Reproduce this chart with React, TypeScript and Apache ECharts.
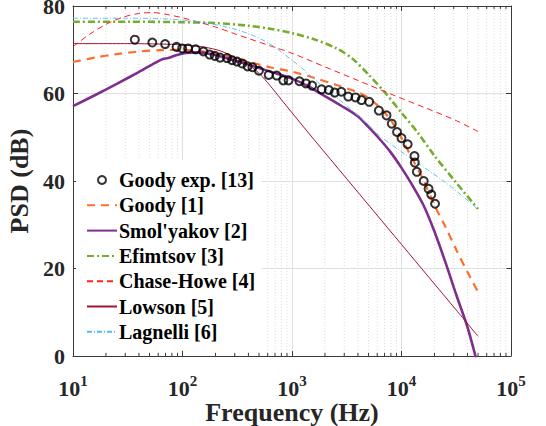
import React, { useEffect, useRef } from 'react';
import * as echarts from 'echarts';

const FONT = '"Liberation Serif", "Times New Roman", serif';

// Goody experiment (circles)
const expFreq = [36.7, 53, 69.4, 88.3, 99.3, 112.5, 132, 155, 177, 197, 220, 255, 284, 315, 351, 393, 435, 499, 613, 725, 833, 930, 1170, 1340, 1528, 1862, 2170, 2455, 2820, 3265, 3800, 4315, 5070, 6210, 7300, 8150, 9100, 10000, 11380, 13140, 13240, 13810, 15960, 17660, 18700, 20240];
const expPsd = [72.3, 71.65, 71.3, 70.65, 70.3, 70.3, 70.1, 69.6, 68.9, 68.6, 68.2, 68.1, 67.6, 67.3, 66.85, 66.2, 66.0, 65.2, 64.25, 64.1, 63.0, 63.0, 62.8, 62.3, 61.8, 60.95, 60.8, 60.2, 60.4, 59.3, 59.1, 58.5, 58.1, 56.1, 55.0, 53.1, 51.2, 49.8, 48.4, 45.7, 44.2, 42.1, 40.0, 38.2, 36.9, 34.8];

// Goody [1]
const goodyFreq = [10, 15.8, 25.1, 39.8, 63.1, 100, 158, 251, 398, 631, 1000, 1585, 2512, 3981, 5012, 6310, 7943, 10000, 12589, 15849, 19953, 25119, 31623, 39811, 50000];
const goodyPsd = [67.2, 68.2, 69.0, 69.6, 69.9, 70.0, 69.6, 68.6, 67.3, 66.0, 65.0, 63.6, 62.0, 60.3, 59.0, 56.8, 54.0, 49.8, 45.0, 40.2, 34.5, 29.6, 24.3, 19.3, 14.6];

// Smol'yakov [2]
const smolFreq = [10, 15.8, 25.1, 39.8, 56.2, 66.1, 74.1, 89.1, 112, 141, 200, 282, 398, 631, 1000, 1413, 1995, 2818, 3981, 5012, 6310, 7943, 10000, 12589, 15849, 19953, 25119, 31623, 39811, 46774, 50000];
const smolPsd = [57.1, 59.6, 62.2, 64.9, 67.0, 67.9, 68.1, 68.8, 69.3, 69.4, 68.8, 67.7, 66.6, 65.0, 63.4, 61.6, 59.4, 57.2, 54.8, 52.3, 49.6, 46.6, 43.0, 39.0, 34.5, 28.5, 21.5, 14.0, 6.8, 0.5, -2.5];

// Efimtsov [3]
const efimFreq = [10, 31.6, 100, 200, 398, 631, 1000, 1585, 2512, 3548, 5012, 7079, 10000, 14125, 19953, 31623, 50000];
const efimPsd = [76.4, 76.4, 76.3, 76.1, 75.5, 74.8, 73.8, 72.4, 70.4, 68.0, 64.3, 60.2, 55.6, 51.0, 45.8, 39.6, 33.6];

// Chase-Howe [4]
const chaseFreq = [10, 14.1, 20, 28.2, 39.8, 53.7, 70.8, 100, 141, 200, 282, 398, 631, 1000, 1995, 3981, 7943, 15849, 31623, 50000];
const chasePsd = [70.7, 73.5, 75.8, 77.4, 78.3, 78.5, 78.1, 77.3, 76.3, 75.2, 73.9, 72.6, 70.9, 69.2, 66.1, 63.0, 59.9, 56.9, 53.8, 51.3];

// Lowson [5]
const lowsonFreq = [10, 31.6, 63.1, 100, 158, 224, 316, 398, 501, 631, 794, 1000, 1585, 3162, 10000, 31623, 50000];
const lowsonPsd = [71.4, 71.4, 71.3, 71.1, 70.6, 69.7, 68.0, 66.6, 64.6, 61.8, 58.7, 55.6, 49.5, 40.5, 25.5, 10.5, 4.5];

// Lagnelli [6]
const lagFreq = [10, 31.6, 63.1, 100, 158, 251, 398, 631, 1000, 1259, 1585, 1995, 2512, 3162, 3981, 5012, 6310, 7943, 10000, 12589, 15849, 25119, 35481, 50000];
const lagPsd = [77.2, 77.2, 77.1, 76.8, 76.2, 75.2, 73.7, 71.3, 67.6, 65.6, 63.4, 61.2, 59.2, 57.2, 55.0, 52.8, 50.3, 48.5, 46.7, 44.9, 43.2, 39.7, 36.7, 33.5];

const expName = 'Goody exp. [13]';
const lineNames = ['Goody [1]', "Smol'yakov [2]", 'Efimtsov [3]', 'Chase-Howe [4]', 'Lowson [5]', 'Lagnelli [6]'];

const decades = [1, 2, 3, 4];
const minorTicks: number[] = [];
decades.forEach((d) => {
  for (let m = 2; m <= 9; m++) minorTicks.push(m * Math.pow(10, d));
});

const pairs = (f: number[], v: number[]) => f.map((x, i) => [x, v[i]]);

const AXIS_COLOR = '#3a3a3a';
const TEXT_COLOR = '#262626';

function buildOption(): any {
  const lineSeries = (name: string, f: number[], v: number[], color: string, width: number, type: any) => ({
    name,
    type: 'line',
    data: pairs(f, v),
    symbol: 'none',
    smooth: 0.3,
    clip: true,
    lineStyle: { color, width, type },
    itemStyle: { color },
    z: 3,
  });
  return {
    animation: false,
    backgroundColor: '#ffffff',
    grid: { left: 73, right: 35, top: 6, bottom: 70, outerBoundsMode: 'none', containLabel: false },
    xAxis: [
      {
        type: 'log',
        logBase: 10,
        min: 10,
        max: 100000,
        name: 'Frequency (Hz)',
        nameLocation: 'middle',
        nameGap: 44,
        nameMoveOverlap: false,
        nameTextStyle: { fontFamily: FONT, fontWeight: 'bold', fontSize: 26, lineHeight: 24, color: TEXT_COLOR },
        axisLine: { show: true, onZero: false, lineStyle: { color: AXIS_COLOR, width: 1 } },
        axisTick: { show: true, inside: true, length: 5, lineStyle: { color: AXIS_COLOR } },
        splitLine: { show: true, lineStyle: { color: '#e0e0e0', width: 1 } },
        axisLabel: {
          margin: 17,
          formatter: (v: number) => '{b|10}{s|' + Math.round(Math.log10(v)) + '}',
          rich: {
            b: { fontFamily: FONT, fontWeight: 'bold', fontSize: 22, lineHeight: 20, color: TEXT_COLOR },
            s: { fontFamily: FONT, fontWeight: 'bold', fontSize: 15, color: TEXT_COLOR, verticalAlign: 'top', padding: [0, 0, 16, 0] },
          },
        },
      },
      {
        type: 'log',
        logBase: 10,
        min: 10,
        max: 100000,
        position: 'top',
        axisLine: { show: true, onZero: false, lineStyle: { color: AXIS_COLOR, width: 1 } },
        axisTick: { show: true, inside: true, length: 5, lineStyle: { color: AXIS_COLOR } },
        axisLabel: { show: false },
        splitLine: { show: false },
      },
    ],
    yAxis: [
      {
        type: 'value',
        min: 0,
        max: 80,
        interval: 20,
        name: 'PSD (dB)',
        nameLocation: 'middle',
        nameGap: 41,
        nameRotate: 90,
        nameMoveOverlap: false,
        nameTextStyle: { fontFamily: FONT, fontWeight: 'bold', fontSize: 26, color: TEXT_COLOR },
        axisLine: { show: true, onZero: false, lineStyle: { color: AXIS_COLOR, width: 1 } },
        axisTick: { show: true, inside: true, length: 5, lineStyle: { color: AXIS_COLOR } },
        splitLine: { show: true, lineStyle: { color: '#e0e0e0', width: 1 } },
        axisLabel: { margin: 8, lineHeight: 12, padding: [2, 0, 0, 0], fontFamily: FONT, fontWeight: 'bold', fontSize: 22, color: TEXT_COLOR },
      },
      {
        type: 'value',
        min: 0,
        max: 80,
        interval: 20,
        position: 'right',
        axisLine: { show: true, onZero: false, lineStyle: { color: AXIS_COLOR, width: 1 } },
        axisTick: { show: true, inside: true, length: 5, lineStyle: { color: AXIS_COLOR } },
        axisLabel: { show: false },
        splitLine: { show: false },
      },
    ],
    legend: {
      data: [
        { name: expName },
        ...lineNames.map((n) => ({ name: n, itemStyle: { opacity: 0 } })),
      ],
      orient: 'vertical',
      left: 76,
      top: 160,
      padding: [10, 6, 8, 10],
      itemWidth: 30,
      itemHeight: 8,
      itemGap: 5.3,
      backgroundColor: '#ffffff',
      borderWidth: 0,
      textStyle: { fontFamily: FONT, fontWeight: 'bold', fontSize: 20, lineHeight: 20, color: '#000', padding: [0, 0, 0, -3] },
      z: 10,
    },
    series: [
      {
        name: 'minor',
        type: 'custom',
        silent: true,
        z: 1,
        data: minorTicks.map((v) => [v, 0]),
        renderItem: (params: any, api: any) => {
          const v = api.value(0);
          const p0 = api.coord([v, 0]);
          const p1 = api.coord([v, 80]);
          return {
            type: 'group',
            children: [
              { type: 'line', shape: { x1: p0[0], y1: p0[1], x2: p1[0], y2: p1[1] }, style: { stroke: '#dcdcdc', lineWidth: 1, lineDash: [1, 2] } },
              { type: 'line', shape: { x1: p0[0], y1: p0[1], x2: p0[0], y2: p0[1] - 3 }, style: { stroke: AXIS_COLOR, lineWidth: 1 } },
              { type: 'line', shape: { x1: p1[0], y1: p1[1], x2: p1[0], y2: p1[1] + 3 }, style: { stroke: AXIS_COLOR, lineWidth: 1 } },
            ],
          };
        },
      },
      {
        name: expName,
        type: 'scatter',
        data: pairs(expFreq, expPsd),
        symbol: 'circle',
        symbolSize: 8,
        itemStyle: { color: 'rgba(255,255,255,0)', borderColor: '#000', borderWidth: 2 },
        z: 4,
      },
      lineSeries(lineNames[0], goodyFreq, goodyPsd, '#ff6d2d', 2.2, [8, 6]),
      lineSeries(lineNames[1], smolFreq, smolPsd, '#7e2f8e', 2.6, 'solid'),
      lineSeries(lineNames[2], efimFreq, efimPsd, '#77ac30', 2.6, [7, 3, 2, 3]),
      lineSeries(lineNames[3], chaseFreq, chasePsd, '#ff2020', 1, [6, 4]),
      lineSeries(lineNames[4], lowsonFreq, lowsonPsd, '#a2142f', 1, 'solid'),
      lineSeries(lineNames[5], lagFreq, lagPsd, '#4dbeee', 0.9, [5, 2, 1, 2]),
    ],
  };
}

export default function App() {
  const ref = useRef<HTMLDivElement>(null);
  useEffect(() => {
    if (!ref.current) return;
    const chart = echarts.init(ref.current, null, { renderer: 'svg' });
    chart.setOption(buildOption());
    return () => chart.dispose();
  }, []);
  return (
    <div
      ref={ref}
      style={{ position: 'fixed', left: 0, top: 0, width: 546, height: 426, background: '#fff' }}
    />
  );
}
